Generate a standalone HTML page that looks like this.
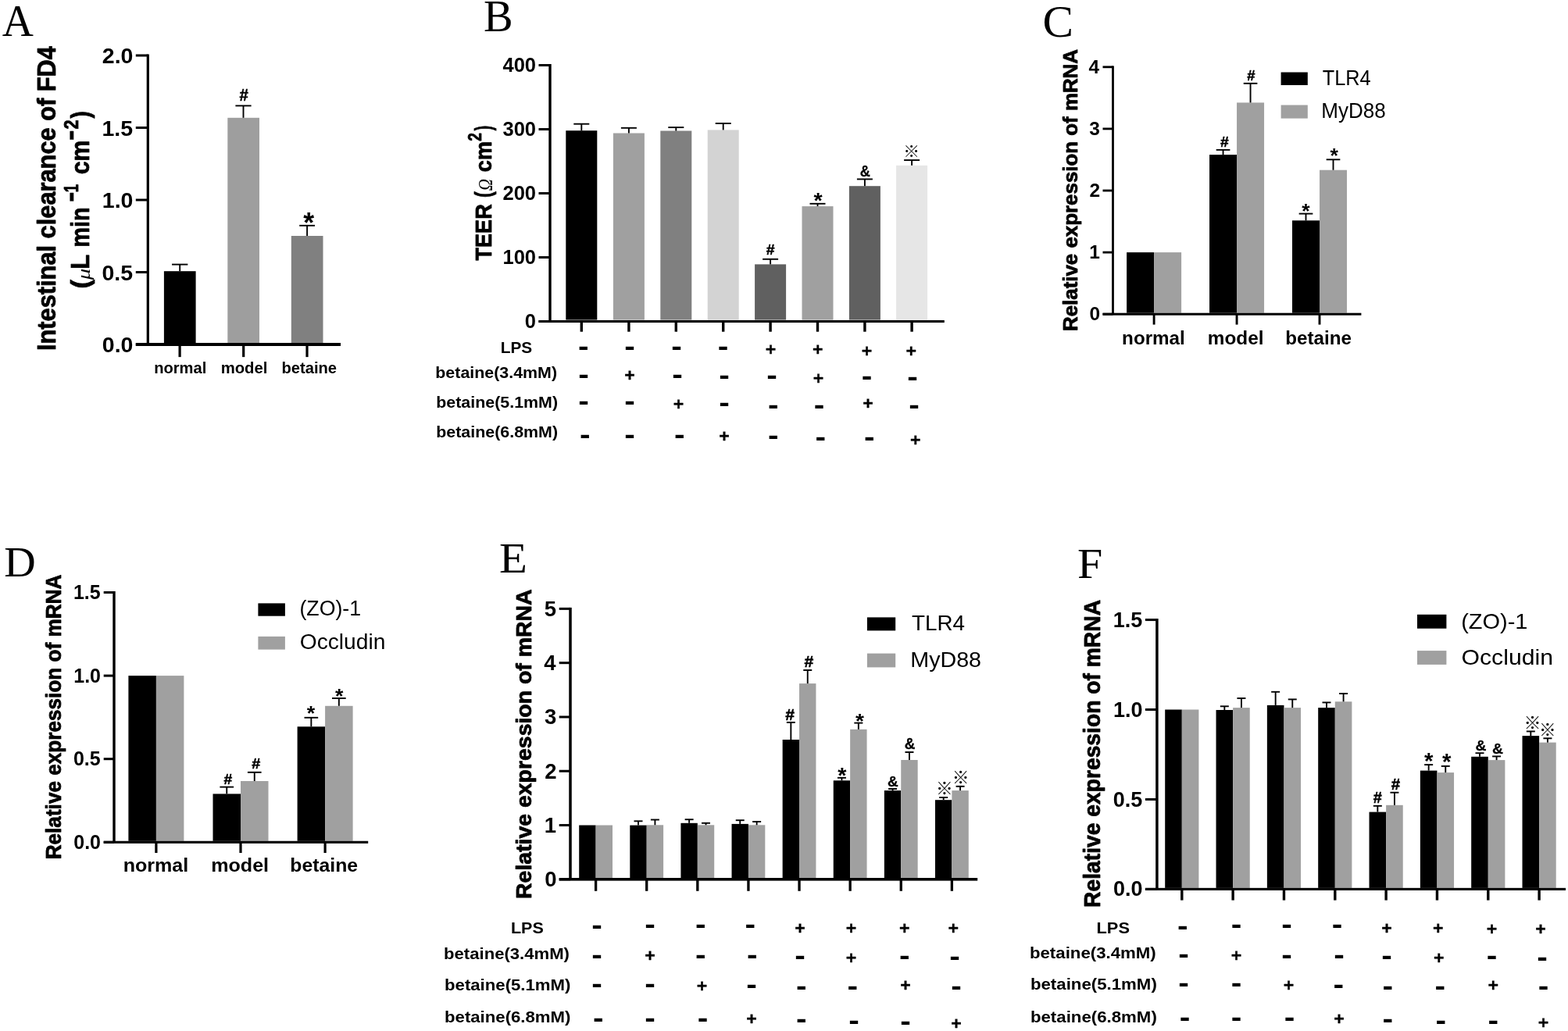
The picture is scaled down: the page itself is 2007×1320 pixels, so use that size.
<!DOCTYPE html>
<html><head><meta charset="utf-8"><title>Figure</title>
<style>html,body{margin:0;padding:0;background:#fff;}svg{display:block;}</style></head>
<body><svg width="2007" height="1320" viewBox="0 0 2007 1320">
<rect x="0" y="0" width="2007" height="1320" fill="#fff"/>
<text x="2.86" y="46.00" font-size="57.00" font-family='"Liberation Serif", "Times New Roman", serif' textLength="40.15" lengthAdjust="spacingAndGlyphs">A</text>
<rect x="209.90" y="347.20" width="40.70" height="91.80" fill="#000"/>
<rect x="291.30" y="150.80" width="40.70" height="288.20" fill="#9e9e9e"/>
<rect x="372.80" y="302.00" width="40.70" height="137.00" fill="#808080"/>
<line x1="230.20" y1="347.20" x2="230.20" y2="338.60" stroke="#000" stroke-width="1.9"/>
<line x1="220.05" y1="338.60" x2="240.35" y2="338.60" stroke="#000" stroke-width="1.9"/>
<line x1="311.50" y1="150.80" x2="311.50" y2="135.40" stroke="#000" stroke-width="1.9"/>
<line x1="301.40" y1="135.40" x2="321.60" y2="135.40" stroke="#000" stroke-width="1.9"/>
<line x1="393.10" y1="302.00" x2="393.10" y2="288.80" stroke="#000" stroke-width="1.9"/>
<line x1="383.20" y1="288.80" x2="403.00" y2="288.80" stroke="#000" stroke-width="1.9"/>
<rect x="187.70" y="69.50" width="3.20" height="371.50" fill="#000"/>
<rect x="173.80" y="439.50" width="15.50" height="3.00" fill="#000"/>
<rect x="173.80" y="347.00" width="15.50" height="3.00" fill="#000"/>
<rect x="173.80" y="254.50" width="15.50" height="3.00" fill="#000"/>
<rect x="173.80" y="162.00" width="15.50" height="3.00" fill="#000"/>
<rect x="173.80" y="69.50" width="15.50" height="3.00" fill="#000"/>
<rect x="173.80" y="439.00" width="262.20" height="4.00" fill="#000"/>
<rect x="228.50" y="441.00" width="3.20" height="16.10" fill="#000"/>
<rect x="310.10" y="441.00" width="3.20" height="16.10" fill="#000"/>
<rect x="391.40" y="441.00" width="3.20" height="16.10" fill="#000"/>
<text x="130.85" y="451.00" font-size="28.50" font-family='"Liberation Sans", Arial, sans-serif' font-weight="bold" textLength="39.62" lengthAdjust="spacingAndGlyphs">0.0</text>
<text x="130.47" y="358.50" font-size="28.50" font-family='"Liberation Sans", Arial, sans-serif' font-weight="bold" textLength="39.62" lengthAdjust="spacingAndGlyphs">0.5</text>
<text x="130.85" y="266.00" font-size="28.50" font-family='"Liberation Sans", Arial, sans-serif' font-weight="bold" textLength="39.62" lengthAdjust="spacingAndGlyphs">1.0</text>
<text x="130.47" y="173.50" font-size="28.50" font-family='"Liberation Sans", Arial, sans-serif' font-weight="bold" textLength="39.62" lengthAdjust="spacingAndGlyphs">1.5</text>
<text x="130.85" y="81.00" font-size="28.50" font-family='"Liberation Sans", Arial, sans-serif' font-weight="bold" textLength="39.62" lengthAdjust="spacingAndGlyphs">2.0</text>
<text x="197.17" y="478.30" font-size="19.70" font-family='"Liberation Sans", Arial, sans-serif' font-weight="bold" textLength="67.15" lengthAdjust="spacingAndGlyphs">normal</text>
<text x="282.66" y="478.30" font-size="19.70" font-family='"Liberation Sans", Arial, sans-serif' font-weight="bold" textLength="59.78" lengthAdjust="spacingAndGlyphs">model</text>
<text x="360.57" y="478.30" font-size="19.70" font-family='"Liberation Sans", Arial, sans-serif' font-weight="bold" textLength="70.52" lengthAdjust="spacingAndGlyphs">betaine</text>
<text transform="translate(70.50,449.06) rotate(-90)" x="0" y="0" font-size="33.00" font-family='"Liberation Sans", Arial, sans-serif' font-weight="bold" textLength="390.02" lengthAdjust="spacingAndGlyphs" stroke="#000" stroke-width="0.8" stroke-linejoin="round">Intestinal clearance of FD4</text>
<text transform="translate(113.90,369.53) rotate(-90)" x="0" y="0" font-size="33.90" font-family='"Liberation Sans", Arial, sans-serif' font-weight="bold" textLength="11.56" lengthAdjust="spacingAndGlyphs" stroke="#000" stroke-width="0.8" stroke-linejoin="round">(</text>
<text transform="translate(114.50,358.27) rotate(-90)" x="0" y="0" font-size="23.70" font-family='"Liberation Serif", "Times New Roman", serif' font-style="italic" textLength="14.53" lengthAdjust="spacingAndGlyphs">μ</text>
<text transform="translate(113.90,344.87) rotate(-90)" x="0" y="0" font-size="33.90" font-family='"Liberation Sans", Arial, sans-serif' font-weight="bold" textLength="18.93" lengthAdjust="spacingAndGlyphs" stroke="#000" stroke-width="0.8" stroke-linejoin="round">L</text>
<text transform="translate(113.90,316.71) rotate(-90)" x="0" y="0" font-size="33.90" font-family='"Liberation Sans", Arial, sans-serif' font-weight="bold" textLength="51.40" lengthAdjust="spacingAndGlyphs" stroke="#000" stroke-width="0.8" stroke-linejoin="round">min</text>
<text transform="translate(103.60,258.16) rotate(-90)" x="0" y="0" font-size="37.00" font-family='"Liberation Sans", Arial, sans-serif' font-weight="bold" textLength="12.11" lengthAdjust="spacingAndGlyphs" stroke="#000" stroke-width="0.8" stroke-linejoin="round">−</text>
<text transform="translate(100.10,246.25) rotate(-90)" x="0" y="0" font-size="26.00" font-family='"Liberation Sans", Arial, sans-serif' font-weight="bold" textLength="10.16" lengthAdjust="spacingAndGlyphs" stroke="#000" stroke-width="0.8" stroke-linejoin="round">1</text>
<text transform="translate(113.90,223.18) rotate(-90)" x="0" y="0" font-size="33.90" font-family='"Liberation Sans", Arial, sans-serif' font-weight="bold" textLength="43.65" lengthAdjust="spacingAndGlyphs" stroke="#000" stroke-width="0.8" stroke-linejoin="round">cm</text>
<text transform="translate(103.60,179.49) rotate(-90)" x="0" y="0" font-size="37.00" font-family='"Liberation Sans", Arial, sans-serif' font-weight="bold" textLength="12.46" lengthAdjust="spacingAndGlyphs" stroke="#000" stroke-width="0.8" stroke-linejoin="round">−</text>
<text transform="translate(100.10,165.56) rotate(-90)" x="0" y="0" font-size="26.00" font-family='"Liberation Sans", Arial, sans-serif' font-weight="bold" textLength="12.13" lengthAdjust="spacingAndGlyphs" stroke="#000" stroke-width="0.8" stroke-linejoin="round">2</text>
<text transform="translate(113.90,151.43) rotate(-90)" x="0" y="0" font-size="33.90" font-family='"Liberation Sans", Arial, sans-serif' font-weight="bold" textLength="9.20" lengthAdjust="spacingAndGlyphs" stroke="#000" stroke-width="0.8" stroke-linejoin="round">)</text>
<text x="619.08" y="40.20" font-size="57.00" font-family='"Liberation Serif", "Times New Roman", serif' textLength="37.57" lengthAdjust="spacingAndGlyphs">B</text>
<rect x="724.30" y="167.20" width="40.00" height="242.30" fill="#000"/>
<line x1="744.30" y1="167.20" x2="744.30" y2="158.70" stroke="#000" stroke-width="1.9"/>
<line x1="734.30" y1="158.70" x2="754.30" y2="158.70" stroke="#000" stroke-width="1.9"/>
<rect x="784.90" y="170.50" width="40.00" height="239.00" fill="#a0a0a0"/>
<line x1="804.90" y1="170.50" x2="804.90" y2="163.80" stroke="#000" stroke-width="1.9"/>
<line x1="794.90" y1="163.80" x2="814.90" y2="163.80" stroke="#000" stroke-width="1.9"/>
<rect x="845.30" y="167.50" width="40.00" height="242.00" fill="#808080"/>
<line x1="865.30" y1="167.50" x2="865.30" y2="163.10" stroke="#000" stroke-width="1.9"/>
<line x1="855.30" y1="163.10" x2="875.30" y2="163.10" stroke="#000" stroke-width="1.9"/>
<rect x="905.70" y="166.40" width="40.00" height="243.10" fill="#d3d3d3"/>
<line x1="925.70" y1="166.40" x2="925.70" y2="158.00" stroke="#000" stroke-width="1.9"/>
<line x1="915.70" y1="158.00" x2="935.70" y2="158.00" stroke="#000" stroke-width="1.9"/>
<rect x="966.10" y="338.40" width="40.00" height="71.10" fill="#606060"/>
<line x1="986.10" y1="338.40" x2="986.10" y2="331.80" stroke="#000" stroke-width="1.9"/>
<line x1="976.10" y1="331.80" x2="996.10" y2="331.80" stroke="#000" stroke-width="1.9"/>
<rect x="1026.50" y="264.10" width="40.00" height="145.40" fill="#a0a0a0"/>
<line x1="1046.50" y1="264.10" x2="1046.50" y2="260.80" stroke="#000" stroke-width="1.9"/>
<line x1="1036.50" y1="260.80" x2="1056.50" y2="260.80" stroke="#000" stroke-width="1.9"/>
<rect x="1086.90" y="238.20" width="40.00" height="171.30" fill="#606060"/>
<line x1="1106.90" y1="238.20" x2="1106.90" y2="229.40" stroke="#000" stroke-width="1.9"/>
<line x1="1096.90" y1="229.40" x2="1116.90" y2="229.40" stroke="#000" stroke-width="1.9"/>
<rect x="1147.10" y="211.80" width="40.00" height="197.70" fill="#e6e6e6"/>
<line x1="1167.10" y1="211.80" x2="1167.10" y2="205.00" stroke="#000" stroke-width="1.9"/>
<line x1="1157.10" y1="205.00" x2="1177.10" y2="205.00" stroke="#000" stroke-width="1.9"/>
<rect x="702.30" y="82.00" width="3.40" height="329.50" fill="#000"/>
<rect x="689.50" y="410.00" width="14.50" height="3.00" fill="#000"/>
<rect x="689.50" y="328.00" width="14.50" height="3.00" fill="#000"/>
<rect x="689.50" y="246.00" width="14.50" height="3.00" fill="#000"/>
<rect x="689.50" y="164.00" width="14.50" height="3.00" fill="#000"/>
<rect x="689.50" y="82.00" width="14.50" height="3.00" fill="#000"/>
<rect x="689.50" y="409.95" width="519.30" height="3.10" fill="#000"/>
<rect x="742.60" y="411.50" width="3.40" height="13.20" fill="#000"/>
<rect x="803.20" y="411.50" width="3.40" height="13.20" fill="#000"/>
<rect x="863.60" y="411.50" width="3.40" height="13.20" fill="#000"/>
<rect x="924.00" y="411.50" width="3.40" height="13.20" fill="#000"/>
<rect x="984.40" y="411.50" width="3.40" height="13.20" fill="#000"/>
<rect x="1044.80" y="411.50" width="3.40" height="13.20" fill="#000"/>
<rect x="1105.20" y="411.50" width="3.40" height="13.20" fill="#000"/>
<rect x="1165.40" y="411.50" width="3.40" height="13.20" fill="#000"/>
<text x="671.86" y="419.87" font-size="25.50" font-family='"Liberation Sans", Arial, sans-serif' font-weight="bold" textLength="14.18" lengthAdjust="spacingAndGlyphs">0</text>
<text x="643.50" y="337.87" font-size="25.50" font-family='"Liberation Sans", Arial, sans-serif' font-weight="bold" textLength="42.55" lengthAdjust="spacingAndGlyphs">100</text>
<text x="643.50" y="255.87" font-size="25.50" font-family='"Liberation Sans", Arial, sans-serif' font-weight="bold" textLength="42.55" lengthAdjust="spacingAndGlyphs">200</text>
<text x="643.50" y="173.87" font-size="25.50" font-family='"Liberation Sans", Arial, sans-serif' font-weight="bold" textLength="42.55" lengthAdjust="spacingAndGlyphs">300</text>
<text x="643.50" y="91.87" font-size="25.50" font-family='"Liberation Sans", Arial, sans-serif' font-weight="bold" textLength="42.55" lengthAdjust="spacingAndGlyphs">400</text>
<text transform="translate(629.20,333.40) rotate(-90)" x="0" y="0" font-size="30.00" font-family='"Liberation Sans", Arial, sans-serif' font-weight="bold" textLength="72.06" lengthAdjust="spacingAndGlyphs" stroke="#000" stroke-width="0.8" stroke-linejoin="round">TEER</text>
<text transform="translate(629.20,253.05) rotate(-90)" x="0" y="0" font-size="30.00" font-family='"Liberation Sans", Arial, sans-serif' font-weight="bold" textLength="7.67" lengthAdjust="spacingAndGlyphs" stroke="#000" stroke-width="0.8" stroke-linejoin="round">(</text>
<text transform="translate(630.00,244.25) rotate(-90)" x="0" y="0" font-size="25.00" font-family='"Liberation Serif", "Times New Roman", serif' font-style="italic" textLength="15.21" lengthAdjust="spacingAndGlyphs">Ω</text>
<text transform="translate(629.20,220.16) rotate(-90)" x="0" y="0" font-size="30.00" font-family='"Liberation Sans", Arial, sans-serif' font-weight="bold" textLength="39.14" lengthAdjust="spacingAndGlyphs" stroke="#000" stroke-width="0.8" stroke-linejoin="round">cm</text>
<text transform="translate(616.40,180.76) rotate(-90)" x="0" y="0" font-size="24.00" font-family='"Liberation Sans", Arial, sans-serif' font-weight="bold" textLength="10.63" lengthAdjust="spacingAndGlyphs" stroke="#000" stroke-width="0.8" stroke-linejoin="round">2</text>
<text transform="translate(629.20,167.32) rotate(-90)" x="0" y="0" font-size="30.00" font-family='"Liberation Sans", Arial, sans-serif' font-weight="bold" textLength="6.49" lengthAdjust="spacingAndGlyphs" stroke="#000" stroke-width="0.8" stroke-linejoin="round">)</text>
<text x="640.71" y="452.40" font-size="20.60" font-family='"Liberation Sans", Arial, sans-serif' font-weight="bold" textLength="40.51" lengthAdjust="spacingAndGlyphs">LPS</text>
<text x="557.29" y="483.80" font-size="19.30" font-family='"Liberation Sans", Arial, sans-serif' font-weight="bold" textLength="155.78" lengthAdjust="spacingAndGlyphs">betaine(3.4mM)</text>
<text x="558.19" y="522.00" font-size="19.30" font-family='"Liberation Sans", Arial, sans-serif' font-weight="bold" textLength="155.88" lengthAdjust="spacingAndGlyphs">betaine(5.1mM)</text>
<text x="558.19" y="560.40" font-size="19.30" font-family='"Liberation Sans", Arial, sans-serif' font-weight="bold" textLength="155.88" lengthAdjust="spacingAndGlyphs">betaine(6.8mM)</text>
<text transform="translate(740.07,455.40) scale(1.166,1)" font-size="35.00" font-family='"Liberation Sans", Arial, sans-serif' font-weight="bold">-</text>
<text transform="translate(799.37,454.70) scale(1.166,1)" font-size="35.00" font-family='"Liberation Sans", Arial, sans-serif' font-weight="bold">-</text>
<text transform="translate(859.37,454.70) scale(1.166,1)" font-size="35.00" font-family='"Liberation Sans", Arial, sans-serif' font-weight="bold">-</text>
<text transform="translate(918.77,454.70) scale(1.166,1)" font-size="35.00" font-family='"Liberation Sans", Arial, sans-serif' font-weight="bold">-</text>
<text transform="translate(979.67,455.49) scale(1.066,1)" font-size="21.76" font-family='"Liberation Sans", Arial, sans-serif' font-weight="bold" stroke="#000" stroke-width="0.3" stroke-linejoin="round">+</text>
<text transform="translate(1039.97,455.49) scale(1.066,1)" font-size="21.76" font-family='"Liberation Sans", Arial, sans-serif' font-weight="bold" stroke="#000" stroke-width="0.3" stroke-linejoin="round">+</text>
<text transform="translate(1102.67,457.39) scale(1.066,1)" font-size="21.76" font-family='"Liberation Sans", Arial, sans-serif' font-weight="bold" stroke="#000" stroke-width="0.3" stroke-linejoin="round">+</text>
<text transform="translate(1159.57,457.39) scale(1.066,1)" font-size="21.76" font-family='"Liberation Sans", Arial, sans-serif' font-weight="bold" stroke="#000" stroke-width="0.3" stroke-linejoin="round">+</text>
<text transform="translate(740.37,490.80) scale(1.166,1)" font-size="35.00" font-family='"Liberation Sans", Arial, sans-serif' font-weight="bold">-</text>
<text transform="translate(799.17,488.49) scale(1.066,1)" font-size="21.76" font-family='"Liberation Sans", Arial, sans-serif' font-weight="bold" stroke="#000" stroke-width="0.3" stroke-linejoin="round">+</text>
<text transform="translate(860.17,491.30) scale(1.166,1)" font-size="35.00" font-family='"Liberation Sans", Arial, sans-serif' font-weight="bold">-</text>
<text transform="translate(920.37,491.50) scale(1.166,1)" font-size="35.00" font-family='"Liberation Sans", Arial, sans-serif' font-weight="bold">-</text>
<text transform="translate(981.37,492.00) scale(1.166,1)" font-size="35.00" font-family='"Liberation Sans", Arial, sans-serif' font-weight="bold">-</text>
<text transform="translate(1040.67,491.89) scale(1.066,1)" font-size="21.76" font-family='"Liberation Sans", Arial, sans-serif' font-weight="bold" stroke="#000" stroke-width="0.3" stroke-linejoin="round">+</text>
<text transform="translate(1102.87,492.50) scale(1.166,1)" font-size="35.00" font-family='"Liberation Sans", Arial, sans-serif' font-weight="bold">-</text>
<text transform="translate(1161.27,494.20) scale(1.166,1)" font-size="35.00" font-family='"Liberation Sans", Arial, sans-serif' font-weight="bold">-</text>
<text transform="translate(740.27,525.20) scale(1.166,1)" font-size="35.00" font-family='"Liberation Sans", Arial, sans-serif' font-weight="bold">-</text>
<text transform="translate(799.37,525.20) scale(1.166,1)" font-size="35.00" font-family='"Liberation Sans", Arial, sans-serif' font-weight="bold">-</text>
<text transform="translate(861.77,524.89) scale(1.066,1)" font-size="21.76" font-family='"Liberation Sans", Arial, sans-serif' font-weight="bold" stroke="#000" stroke-width="0.3" stroke-linejoin="round">+</text>
<text transform="translate(920.17,526.70) scale(1.166,1)" font-size="35.00" font-family='"Liberation Sans", Arial, sans-serif' font-weight="bold">-</text>
<text transform="translate(983.07,529.60) scale(1.166,1)" font-size="35.00" font-family='"Liberation Sans", Arial, sans-serif' font-weight="bold">-</text>
<text transform="translate(1041.87,529.60) scale(1.166,1)" font-size="35.00" font-family='"Liberation Sans", Arial, sans-serif' font-weight="bold">-</text>
<text transform="translate(1104.27,524.19) scale(1.066,1)" font-size="21.76" font-family='"Liberation Sans", Arial, sans-serif' font-weight="bold" stroke="#000" stroke-width="0.3" stroke-linejoin="round">+</text>
<text transform="translate(1163.17,530.30) scale(1.166,1)" font-size="35.00" font-family='"Liberation Sans", Arial, sans-serif' font-weight="bold">-</text>
<text transform="translate(741.97,567.80) scale(1.166,1)" font-size="35.00" font-family='"Liberation Sans", Arial, sans-serif' font-weight="bold">-</text>
<text transform="translate(799.37,567.80) scale(1.166,1)" font-size="35.00" font-family='"Liberation Sans", Arial, sans-serif' font-weight="bold">-</text>
<text transform="translate(862.97,568.30) scale(1.166,1)" font-size="35.00" font-family='"Liberation Sans", Arial, sans-serif' font-weight="bold">-</text>
<text transform="translate(920.37,565.99) scale(1.066,1)" font-size="21.76" font-family='"Liberation Sans", Arial, sans-serif' font-weight="bold" stroke="#000" stroke-width="0.3" stroke-linejoin="round">+</text>
<text transform="translate(983.07,569.00) scale(1.166,1)" font-size="35.00" font-family='"Liberation Sans", Arial, sans-serif' font-weight="bold">-</text>
<text transform="translate(1043.57,570.70) scale(1.166,1)" font-size="35.00" font-family='"Liberation Sans", Arial, sans-serif' font-weight="bold">-</text>
<text transform="translate(1105.97,571.40) scale(1.166,1)" font-size="35.00" font-family='"Liberation Sans", Arial, sans-serif' font-weight="bold">-</text>
<text transform="translate(1165.07,570.79) scale(1.066,1)" font-size="21.76" font-family='"Liberation Sans", Arial, sans-serif' font-weight="bold" stroke="#000" stroke-width="0.3" stroke-linejoin="round">+</text>
<text x="1334.57" y="47.30" font-size="57.00" font-family='"Liberation Serif", "Times New Roman", serif' textLength="39.50" lengthAdjust="spacingAndGlyphs">C</text>
<rect x="1442.10" y="323.10" width="35.00" height="77.60" fill="#000"/>
<rect x="1477.10" y="323.10" width="35.00" height="77.60" fill="#a0a0a0"/>
<rect x="1548.05" y="198.10" width="35.00" height="202.60" fill="#000"/>
<rect x="1583.05" y="131.40" width="35.00" height="269.30" fill="#a0a0a0"/>
<line x1="1565.55" y1="198.10" x2="1565.55" y2="191.90" stroke="#000" stroke-width="1.9"/>
<line x1="1556.70" y1="191.90" x2="1574.40" y2="191.90" stroke="#000" stroke-width="1.9"/>
<line x1="1600.55" y1="131.40" x2="1600.55" y2="106.80" stroke="#000" stroke-width="1.9"/>
<line x1="1591.70" y1="106.80" x2="1609.40" y2="106.80" stroke="#000" stroke-width="1.9"/>
<rect x="1654.00" y="282.30" width="35.00" height="118.40" fill="#000"/>
<rect x="1689.00" y="217.70" width="35.00" height="183.00" fill="#a0a0a0"/>
<line x1="1671.50" y1="282.30" x2="1671.50" y2="273.60" stroke="#000" stroke-width="1.9"/>
<line x1="1662.65" y1="273.60" x2="1680.35" y2="273.60" stroke="#000" stroke-width="1.9"/>
<line x1="1706.50" y1="217.70" x2="1706.50" y2="204.30" stroke="#000" stroke-width="1.9"/>
<line x1="1697.65" y1="204.30" x2="1715.35" y2="204.30" stroke="#000" stroke-width="1.9"/>
<rect x="1423.10" y="84.40" width="2.80" height="317.80" fill="#000"/>
<rect x="1411.50" y="400.80" width="13.00" height="2.80" fill="#000"/>
<rect x="1411.50" y="321.70" width="13.00" height="2.80" fill="#000"/>
<rect x="1411.50" y="242.60" width="13.00" height="2.80" fill="#000"/>
<rect x="1411.50" y="163.50" width="13.00" height="2.80" fill="#000"/>
<rect x="1411.50" y="84.40" width="13.00" height="2.80" fill="#000"/>
<rect x="1411.50" y="400.70" width="330.90" height="3.00" fill="#000"/>
<rect x="1475.65" y="402.20" width="2.90" height="13.40" fill="#000"/>
<rect x="1581.60" y="402.20" width="2.90" height="13.40" fill="#000"/>
<rect x="1687.55" y="402.20" width="2.90" height="13.40" fill="#000"/>
<text x="1394.48" y="410.43" font-size="24.50" font-family='"Liberation Sans", Arial, sans-serif' font-weight="bold" textLength="13.63" lengthAdjust="spacingAndGlyphs">0</text>
<text x="1394.16" y="331.33" font-size="24.50" font-family='"Liberation Sans", Arial, sans-serif' font-weight="bold" textLength="13.63" lengthAdjust="spacingAndGlyphs">1</text>
<text x="1394.46" y="252.23" font-size="24.50" font-family='"Liberation Sans", Arial, sans-serif' font-weight="bold" textLength="13.63" lengthAdjust="spacingAndGlyphs">2</text>
<text x="1394.36" y="173.13" font-size="24.50" font-family='"Liberation Sans", Arial, sans-serif' font-weight="bold" textLength="13.63" lengthAdjust="spacingAndGlyphs">3</text>
<text x="1393.61" y="94.03" font-size="24.50" font-family='"Liberation Sans", Arial, sans-serif' font-weight="bold" textLength="13.63" lengthAdjust="spacingAndGlyphs">4</text>
<rect x="1639.60" y="92.50" width="34.20" height="16.50" fill="#000"/>
<rect x="1639.60" y="134.50" width="34.20" height="17.10" fill="#a0a0a0"/>
<text x="1692.83" y="109.00" font-size="27.60" font-family='"Liberation Sans", Arial, sans-serif' textLength="61.81" lengthAdjust="spacingAndGlyphs">TLR4</text>
<text x="1691.27" y="151.00" font-size="27.60" font-family='"Liberation Sans", Arial, sans-serif' textLength="82.36" lengthAdjust="spacingAndGlyphs">MyD88</text>
<text x="1436.11" y="440.60" font-size="24.00" font-family='"Liberation Sans", Arial, sans-serif' font-weight="bold" textLength="80.61" lengthAdjust="spacingAndGlyphs">normal</text>
<text x="1545.80" y="440.60" font-size="24.00" font-family='"Liberation Sans", Arial, sans-serif' font-weight="bold" textLength="71.63" lengthAdjust="spacingAndGlyphs">model</text>
<text x="1645.20" y="440.60" font-size="24.00" font-family='"Liberation Sans", Arial, sans-serif' font-weight="bold" textLength="84.72" lengthAdjust="spacingAndGlyphs">betaine</text>
<text transform="translate(1379.20,424.03) rotate(-90)" x="0" y="0" font-size="26.20" font-family='"Liberation Sans", Arial, sans-serif' font-weight="bold" textLength="361.01" lengthAdjust="spacingAndGlyphs" stroke="#000" stroke-width="0.8" stroke-linejoin="round">Relative expression of mRNA</text>
<text x="5.39" y="737.50" font-size="55.00" font-family='"Liberation Serif", "Times New Roman", serif' textLength="40.46" lengthAdjust="spacingAndGlyphs">D</text>
<rect x="164.40" y="865.10" width="35.50" height="211.70" fill="#000"/>
<rect x="199.90" y="865.10" width="35.50" height="211.70" fill="#a0a0a0"/>
<rect x="272.50" y="1016.40" width="35.50" height="60.40" fill="#000"/>
<rect x="308.00" y="1000.00" width="35.50" height="76.80" fill="#a0a0a0"/>
<line x1="290.25" y1="1016.40" x2="290.25" y2="1007.60" stroke="#000" stroke-width="1.9"/>
<line x1="281.40" y1="1007.60" x2="299.10" y2="1007.60" stroke="#000" stroke-width="1.9"/>
<line x1="325.75" y1="1000.00" x2="325.75" y2="988.80" stroke="#000" stroke-width="1.9"/>
<line x1="316.90" y1="988.80" x2="334.60" y2="988.80" stroke="#000" stroke-width="1.9"/>
<rect x="380.60" y="930.30" width="35.50" height="146.50" fill="#000"/>
<rect x="416.10" y="903.80" width="35.50" height="173.00" fill="#a0a0a0"/>
<line x1="398.35" y1="930.30" x2="398.35" y2="918.80" stroke="#000" stroke-width="1.9"/>
<line x1="389.50" y1="918.80" x2="407.20" y2="918.80" stroke="#000" stroke-width="1.9"/>
<line x1="433.85" y1="903.80" x2="433.85" y2="894.00" stroke="#000" stroke-width="1.9"/>
<line x1="425.00" y1="894.00" x2="442.70" y2="894.00" stroke="#000" stroke-width="1.9"/>
<rect x="144.30" y="757.00" width="3.40" height="321.30" fill="#000"/>
<rect x="132.70" y="1076.80" width="13.30" height="3.00" fill="#000"/>
<rect x="132.70" y="970.20" width="13.30" height="3.00" fill="#000"/>
<rect x="132.70" y="863.60" width="13.30" height="3.00" fill="#000"/>
<rect x="132.70" y="757.00" width="13.30" height="3.00" fill="#000"/>
<rect x="132.70" y="1076.75" width="338.50" height="3.10" fill="#000"/>
<rect x="198.30" y="1078.30" width="3.20" height="13.70" fill="#000"/>
<rect x="306.40" y="1078.30" width="3.20" height="13.70" fill="#000"/>
<rect x="414.50" y="1078.30" width="3.20" height="13.70" fill="#000"/>
<text x="94.27" y="1086.70" font-size="25.00" font-family='"Liberation Sans", Arial, sans-serif' font-weight="bold" textLength="34.75" lengthAdjust="spacingAndGlyphs">0.0</text>
<text x="93.94" y="980.10" font-size="25.00" font-family='"Liberation Sans", Arial, sans-serif' font-weight="bold" textLength="34.75" lengthAdjust="spacingAndGlyphs">0.5</text>
<text x="94.27" y="873.50" font-size="25.00" font-family='"Liberation Sans", Arial, sans-serif' font-weight="bold" textLength="34.75" lengthAdjust="spacingAndGlyphs">1.0</text>
<text x="93.94" y="766.90" font-size="25.00" font-family='"Liberation Sans", Arial, sans-serif' font-weight="bold" textLength="34.75" lengthAdjust="spacingAndGlyphs">1.5</text>
<rect x="330.40" y="772.40" width="34.50" height="16.30" fill="#000"/>
<rect x="330.40" y="814.90" width="34.50" height="16.70" fill="#a0a0a0"/>
<text x="383.44" y="788.00" font-size="27.00" font-family='"Liberation Sans", Arial, sans-serif' textLength="78.66" lengthAdjust="spacingAndGlyphs">(ZO)-1</text>
<text x="383.77" y="830.60" font-size="27.00" font-family='"Liberation Sans", Arial, sans-serif' textLength="109.56" lengthAdjust="spacingAndGlyphs">Occludin</text>
<text x="157.65" y="1116.40" font-size="24.50" font-family='"Liberation Sans", Arial, sans-serif' font-weight="bold" textLength="83.63" lengthAdjust="spacingAndGlyphs">normal</text>
<text x="270.25" y="1116.40" font-size="24.50" font-family='"Liberation Sans", Arial, sans-serif' font-weight="bold" textLength="73.83" lengthAdjust="spacingAndGlyphs">model</text>
<text x="371.37" y="1116.40" font-size="24.50" font-family='"Liberation Sans", Arial, sans-serif' font-weight="bold" textLength="86.78" lengthAdjust="spacingAndGlyphs">betaine</text>
<text transform="translate(78.20,1100.35) rotate(-90)" x="0" y="0" font-size="27.50" font-family='"Liberation Sans", Arial, sans-serif' font-weight="bold" textLength="364.84" lengthAdjust="spacingAndGlyphs" stroke="#000" stroke-width="0.8" stroke-linejoin="round">Relative expression of mRNA</text>
<text x="639.01" y="733.40" font-size="55.00" font-family='"Liberation Serif", "Times New Roman", serif' textLength="35.92" lengthAdjust="spacingAndGlyphs">E</text>
<rect x="741.20" y="1056.52" width="21.40" height="67.78" fill="#000"/>
<rect x="762.60" y="1056.52" width="21.40" height="67.78" fill="#a0a0a0"/>
<rect x="806.31" y="1056.60" width="21.40" height="67.70" fill="#000"/>
<rect x="827.71" y="1056.30" width="21.40" height="68.00" fill="#a0a0a0"/>
<line x1="817.01" y1="1056.60" x2="817.01" y2="1051.30" stroke="#000" stroke-width="1.9"/>
<line x1="811.51" y1="1051.30" x2="822.51" y2="1051.30" stroke="#000" stroke-width="1.9"/>
<line x1="838.41" y1="1056.30" x2="838.41" y2="1049.50" stroke="#000" stroke-width="1.9"/>
<line x1="832.91" y1="1049.50" x2="843.91" y2="1049.50" stroke="#000" stroke-width="1.9"/>
<rect x="871.42" y="1053.80" width="21.40" height="70.50" fill="#000"/>
<rect x="892.82" y="1056.30" width="21.40" height="68.00" fill="#a0a0a0"/>
<line x1="882.12" y1="1053.80" x2="882.12" y2="1049.20" stroke="#000" stroke-width="1.9"/>
<line x1="876.62" y1="1049.20" x2="887.62" y2="1049.20" stroke="#000" stroke-width="1.9"/>
<line x1="903.52" y1="1056.30" x2="903.52" y2="1053.80" stroke="#000" stroke-width="1.9"/>
<line x1="898.02" y1="1053.80" x2="909.02" y2="1053.80" stroke="#000" stroke-width="1.9"/>
<rect x="936.53" y="1054.90" width="21.40" height="69.40" fill="#000"/>
<rect x="957.93" y="1056.30" width="21.40" height="68.00" fill="#a0a0a0"/>
<line x1="947.23" y1="1054.90" x2="947.23" y2="1050.20" stroke="#000" stroke-width="1.9"/>
<line x1="941.73" y1="1050.20" x2="952.73" y2="1050.20" stroke="#000" stroke-width="1.9"/>
<line x1="968.63" y1="1056.30" x2="968.63" y2="1052.00" stroke="#000" stroke-width="1.9"/>
<line x1="963.13" y1="1052.00" x2="974.13" y2="1052.00" stroke="#000" stroke-width="1.9"/>
<rect x="1001.64" y="947.00" width="21.40" height="177.30" fill="#000"/>
<rect x="1023.04" y="875.10" width="21.40" height="249.20" fill="#a0a0a0"/>
<line x1="1012.34" y1="947.00" x2="1012.34" y2="924.90" stroke="#000" stroke-width="1.9"/>
<line x1="1006.84" y1="924.90" x2="1017.84" y2="924.90" stroke="#000" stroke-width="1.9"/>
<line x1="1033.74" y1="875.10" x2="1033.74" y2="858.00" stroke="#000" stroke-width="1.9"/>
<line x1="1028.24" y1="858.00" x2="1039.24" y2="858.00" stroke="#000" stroke-width="1.9"/>
<rect x="1066.75" y="999.30" width="21.40" height="125.00" fill="#000"/>
<rect x="1088.15" y="933.80" width="21.40" height="190.50" fill="#a0a0a0"/>
<line x1="1077.45" y1="999.30" x2="1077.45" y2="995.80" stroke="#000" stroke-width="1.9"/>
<line x1="1071.95" y1="995.80" x2="1082.95" y2="995.80" stroke="#000" stroke-width="1.9"/>
<line x1="1098.85" y1="933.80" x2="1098.85" y2="925.60" stroke="#000" stroke-width="1.9"/>
<line x1="1093.35" y1="925.60" x2="1104.35" y2="925.60" stroke="#000" stroke-width="1.9"/>
<rect x="1131.86" y="1012.10" width="21.40" height="112.20" fill="#000"/>
<rect x="1153.26" y="973.00" width="21.40" height="151.30" fill="#a0a0a0"/>
<line x1="1142.56" y1="1012.10" x2="1142.56" y2="1010.00" stroke="#000" stroke-width="1.9"/>
<line x1="1137.06" y1="1010.00" x2="1148.06" y2="1010.00" stroke="#000" stroke-width="1.9"/>
<line x1="1163.96" y1="973.00" x2="1163.96" y2="963.00" stroke="#000" stroke-width="1.9"/>
<line x1="1158.46" y1="963.00" x2="1169.46" y2="963.00" stroke="#000" stroke-width="1.9"/>
<rect x="1196.97" y="1024.20" width="21.40" height="100.10" fill="#000"/>
<rect x="1218.37" y="1012.10" width="21.40" height="112.20" fill="#a0a0a0"/>
<line x1="1207.67" y1="1024.20" x2="1207.67" y2="1021.00" stroke="#000" stroke-width="1.9"/>
<line x1="1202.17" y1="1021.00" x2="1213.17" y2="1021.00" stroke="#000" stroke-width="1.9"/>
<line x1="1229.07" y1="1012.10" x2="1229.07" y2="1006.80" stroke="#000" stroke-width="1.9"/>
<line x1="1223.57" y1="1006.80" x2="1234.57" y2="1006.80" stroke="#000" stroke-width="1.9"/>
<rect x="728.25" y="777.90" width="3.50" height="347.90" fill="#000"/>
<rect x="715.70" y="1124.30" width="14.30" height="3.00" fill="#000"/>
<rect x="715.70" y="1055.02" width="14.30" height="3.00" fill="#000"/>
<rect x="715.70" y="985.74" width="14.30" height="3.00" fill="#000"/>
<rect x="715.70" y="916.46" width="14.30" height="3.00" fill="#000"/>
<rect x="715.70" y="847.18" width="14.30" height="3.00" fill="#000"/>
<rect x="715.70" y="777.90" width="14.30" height="3.00" fill="#000"/>
<rect x="715.70" y="1124.00" width="535.50" height="3.60" fill="#000"/>
<rect x="760.95" y="1125.80" width="3.30" height="15.00" fill="#000"/>
<rect x="826.06" y="1125.80" width="3.30" height="15.00" fill="#000"/>
<rect x="891.17" y="1125.80" width="3.30" height="15.00" fill="#000"/>
<rect x="956.28" y="1125.80" width="3.30" height="15.00" fill="#000"/>
<rect x="1021.39" y="1125.80" width="3.30" height="15.00" fill="#000"/>
<rect x="1086.50" y="1125.80" width="3.30" height="15.00" fill="#000"/>
<rect x="1151.61" y="1125.80" width="3.30" height="15.00" fill="#000"/>
<rect x="1216.72" y="1125.80" width="3.30" height="15.00" fill="#000"/>
<text x="697.23" y="1135.06" font-size="27.50" font-family='"Liberation Sans", Arial, sans-serif' font-weight="bold" textLength="15.29" lengthAdjust="spacingAndGlyphs">0</text>
<text x="696.87" y="1065.78" font-size="27.50" font-family='"Liberation Sans", Arial, sans-serif' font-weight="bold" textLength="15.29" lengthAdjust="spacingAndGlyphs">1</text>
<text x="697.21" y="996.50" font-size="27.50" font-family='"Liberation Sans", Arial, sans-serif' font-weight="bold" textLength="15.29" lengthAdjust="spacingAndGlyphs">2</text>
<text x="697.10" y="927.22" font-size="27.50" font-family='"Liberation Sans", Arial, sans-serif' font-weight="bold" textLength="15.29" lengthAdjust="spacingAndGlyphs">3</text>
<text x="696.25" y="857.94" font-size="27.50" font-family='"Liberation Sans", Arial, sans-serif' font-weight="bold" textLength="15.29" lengthAdjust="spacingAndGlyphs">4</text>
<text x="696.87" y="788.66" font-size="27.50" font-family='"Liberation Sans", Arial, sans-serif' font-weight="bold" textLength="15.29" lengthAdjust="spacingAndGlyphs">5</text>
<rect x="1109.90" y="790.40" width="36.30" height="17.00" fill="#000"/>
<rect x="1109.90" y="836.60" width="36.30" height="17.80" fill="#a0a0a0"/>
<text x="1166.98" y="807.40" font-size="27.50" font-family='"Liberation Sans", Arial, sans-serif' textLength="67.94" lengthAdjust="spacingAndGlyphs">TLR4</text>
<text x="1165.25" y="854.40" font-size="27.50" font-family='"Liberation Sans", Arial, sans-serif' textLength="90.80" lengthAdjust="spacingAndGlyphs">MyD88</text>
<text transform="translate(679.80,1150.90) rotate(-90)" x="0" y="0" font-size="28.30" font-family='"Liberation Sans", Arial, sans-serif' font-weight="bold" textLength="396.45" lengthAdjust="spacingAndGlyphs" stroke="#000" stroke-width="0.8" stroke-linejoin="round">Relative expression of mRNA</text>
<text x="653.96" y="1194.80" font-size="20.60" font-family='"Liberation Sans", Arial, sans-serif' font-weight="bold" textLength="41.88" lengthAdjust="spacingAndGlyphs">LPS</text>
<text x="568.04" y="1228.00" font-size="19.80" font-family='"Liberation Sans", Arial, sans-serif' font-weight="bold" textLength="160.96" lengthAdjust="spacingAndGlyphs">betaine(3.4mM)</text>
<text x="569.04" y="1268.00" font-size="19.80" font-family='"Liberation Sans", Arial, sans-serif' font-weight="bold" textLength="161.37" lengthAdjust="spacingAndGlyphs">betaine(5.1mM)</text>
<text x="569.04" y="1309.40" font-size="19.80" font-family='"Liberation Sans", Arial, sans-serif' font-weight="bold" textLength="161.37" lengthAdjust="spacingAndGlyphs">betaine(6.8mM)</text>
<text transform="translate(757.27,1195.80) scale(1.166,1)" font-size="35.00" font-family='"Liberation Sans", Arial, sans-serif' font-weight="bold">-</text>
<text transform="translate(825.17,1195.10) scale(1.166,1)" font-size="35.00" font-family='"Liberation Sans", Arial, sans-serif' font-weight="bold">-</text>
<text transform="translate(889.97,1195.10) scale(1.166,1)" font-size="35.00" font-family='"Liberation Sans", Arial, sans-serif' font-weight="bold">-</text>
<text transform="translate(953.57,1195.10) scale(1.166,1)" font-size="35.00" font-family='"Liberation Sans", Arial, sans-serif' font-weight="bold">-</text>
<text transform="translate(1017.27,1195.69) scale(1.066,1)" font-size="21.76" font-family='"Liberation Sans", Arial, sans-serif' font-weight="bold" stroke="#000" stroke-width="0.3" stroke-linejoin="round">+</text>
<text transform="translate(1082.67,1195.69) scale(1.066,1)" font-size="21.76" font-family='"Liberation Sans", Arial, sans-serif' font-weight="bold" stroke="#000" stroke-width="0.3" stroke-linejoin="round">+</text>
<text transform="translate(1150.97,1196.39) scale(1.066,1)" font-size="21.76" font-family='"Liberation Sans", Arial, sans-serif' font-weight="bold" stroke="#000" stroke-width="0.3" stroke-linejoin="round">+</text>
<text transform="translate(1213.57,1196.39) scale(1.066,1)" font-size="21.76" font-family='"Liberation Sans", Arial, sans-serif' font-weight="bold" stroke="#000" stroke-width="0.3" stroke-linejoin="round">+</text>
<text transform="translate(757.27,1233.60) scale(1.166,1)" font-size="35.00" font-family='"Liberation Sans", Arial, sans-serif' font-weight="bold">-</text>
<text transform="translate(825.17,1231.09) scale(1.066,1)" font-size="21.76" font-family='"Liberation Sans", Arial, sans-serif' font-weight="bold" stroke="#000" stroke-width="0.3" stroke-linejoin="round">+</text>
<text transform="translate(889.97,1233.60) scale(1.166,1)" font-size="35.00" font-family='"Liberation Sans", Arial, sans-serif' font-weight="bold">-</text>
<text transform="translate(956.07,1233.60) scale(1.166,1)" font-size="35.00" font-family='"Liberation Sans", Arial, sans-serif' font-weight="bold">-</text>
<text transform="translate(1017.27,1234.70) scale(1.166,1)" font-size="35.00" font-family='"Liberation Sans", Arial, sans-serif' font-weight="bold">-</text>
<text transform="translate(1082.67,1233.89) scale(1.066,1)" font-size="21.76" font-family='"Liberation Sans", Arial, sans-serif' font-weight="bold" stroke="#000" stroke-width="0.3" stroke-linejoin="round">+</text>
<text transform="translate(1150.97,1234.70) scale(1.166,1)" font-size="35.00" font-family='"Liberation Sans", Arial, sans-serif' font-weight="bold">-</text>
<text transform="translate(1215.37,1236.40) scale(1.166,1)" font-size="35.00" font-family='"Liberation Sans", Arial, sans-serif' font-weight="bold">-</text>
<text transform="translate(757.27,1270.80) scale(1.166,1)" font-size="35.00" font-family='"Liberation Sans", Arial, sans-serif' font-weight="bold">-</text>
<text transform="translate(825.17,1270.80) scale(1.166,1)" font-size="35.00" font-family='"Liberation Sans", Arial, sans-serif' font-weight="bold">-</text>
<text transform="translate(891.67,1269.99) scale(1.066,1)" font-size="21.76" font-family='"Liberation Sans", Arial, sans-serif' font-weight="bold" stroke="#000" stroke-width="0.3" stroke-linejoin="round">+</text>
<text transform="translate(955.37,1271.80) scale(1.166,1)" font-size="35.00" font-family='"Liberation Sans", Arial, sans-serif' font-weight="bold">-</text>
<text transform="translate(1019.07,1273.60) scale(1.166,1)" font-size="35.00" font-family='"Liberation Sans", Arial, sans-serif' font-weight="bold">-</text>
<text transform="translate(1084.47,1273.60) scale(1.166,1)" font-size="35.00" font-family='"Liberation Sans", Arial, sans-serif' font-weight="bold">-</text>
<text transform="translate(1152.37,1269.29) scale(1.066,1)" font-size="21.76" font-family='"Liberation Sans", Arial, sans-serif' font-weight="bold" stroke="#000" stroke-width="0.3" stroke-linejoin="round">+</text>
<text transform="translate(1217.17,1274.30) scale(1.166,1)" font-size="35.00" font-family='"Liberation Sans", Arial, sans-serif' font-weight="bold">-</text>
<text transform="translate(759.07,1315.00) scale(1.166,1)" font-size="35.00" font-family='"Liberation Sans", Arial, sans-serif' font-weight="bold">-</text>
<text transform="translate(825.17,1315.00) scale(1.166,1)" font-size="35.00" font-family='"Liberation Sans", Arial, sans-serif' font-weight="bold">-</text>
<text transform="translate(892.77,1315.00) scale(1.166,1)" font-size="35.00" font-family='"Liberation Sans", Arial, sans-serif' font-weight="bold">-</text>
<text transform="translate(955.37,1312.49) scale(1.066,1)" font-size="21.76" font-family='"Liberation Sans", Arial, sans-serif' font-weight="bold" stroke="#000" stroke-width="0.3" stroke-linejoin="round">+</text>
<text transform="translate(1019.07,1316.00) scale(1.166,1)" font-size="35.00" font-family='"Liberation Sans", Arial, sans-serif' font-weight="bold">-</text>
<text transform="translate(1086.27,1317.80) scale(1.166,1)" font-size="35.00" font-family='"Liberation Sans", Arial, sans-serif' font-weight="bold">-</text>
<text transform="translate(1152.37,1318.50) scale(1.166,1)" font-size="35.00" font-family='"Liberation Sans", Arial, sans-serif' font-weight="bold">-</text>
<text transform="translate(1217.17,1317.79) scale(1.066,1)" font-size="21.76" font-family='"Liberation Sans", Arial, sans-serif' font-weight="bold" stroke="#000" stroke-width="0.3" stroke-linejoin="round">+</text>
<text x="1379.03" y="739.80" font-size="55.00" font-family='"Liberation Serif", "Times New Roman", serif' textLength="32.27" lengthAdjust="spacingAndGlyphs">F</text>
<rect x="1491.20" y="908.50" width="21.60" height="228.40" fill="#000"/>
<rect x="1512.80" y="908.50" width="21.60" height="228.40" fill="#a0a0a0"/>
<rect x="1556.53" y="909.00" width="21.60" height="227.90" fill="#000"/>
<rect x="1578.13" y="906.10" width="21.60" height="230.80" fill="#a0a0a0"/>
<line x1="1567.33" y1="909.00" x2="1567.33" y2="904.30" stroke="#000" stroke-width="1.9"/>
<line x1="1561.83" y1="904.30" x2="1572.83" y2="904.30" stroke="#000" stroke-width="1.9"/>
<line x1="1588.93" y1="906.10" x2="1588.93" y2="894.00" stroke="#000" stroke-width="1.9"/>
<line x1="1583.43" y1="894.00" x2="1594.43" y2="894.00" stroke="#000" stroke-width="1.9"/>
<rect x="1621.86" y="902.90" width="21.60" height="234.00" fill="#000"/>
<rect x="1643.46" y="906.10" width="21.60" height="230.80" fill="#a0a0a0"/>
<line x1="1632.66" y1="902.90" x2="1632.66" y2="885.80" stroke="#000" stroke-width="1.9"/>
<line x1="1627.16" y1="885.80" x2="1638.16" y2="885.80" stroke="#000" stroke-width="1.9"/>
<line x1="1654.26" y1="906.10" x2="1654.26" y2="895.40" stroke="#000" stroke-width="1.9"/>
<line x1="1648.76" y1="895.40" x2="1659.76" y2="895.40" stroke="#000" stroke-width="1.9"/>
<rect x="1687.19" y="906.10" width="21.60" height="230.80" fill="#000"/>
<rect x="1708.79" y="898.30" width="21.60" height="238.60" fill="#a0a0a0"/>
<line x1="1697.99" y1="906.10" x2="1697.99" y2="899.40" stroke="#000" stroke-width="1.9"/>
<line x1="1692.49" y1="899.40" x2="1703.49" y2="899.40" stroke="#000" stroke-width="1.9"/>
<line x1="1719.59" y1="898.30" x2="1719.59" y2="888.00" stroke="#000" stroke-width="1.9"/>
<line x1="1714.09" y1="888.00" x2="1725.09" y2="888.00" stroke="#000" stroke-width="1.9"/>
<rect x="1752.52" y="1039.60" width="21.60" height="97.30" fill="#000"/>
<rect x="1774.12" y="1030.80" width="21.60" height="106.10" fill="#a0a0a0"/>
<line x1="1763.32" y1="1039.60" x2="1763.32" y2="1031.80" stroke="#000" stroke-width="1.9"/>
<line x1="1757.82" y1="1031.80" x2="1768.82" y2="1031.80" stroke="#000" stroke-width="1.9"/>
<line x1="1784.92" y1="1030.80" x2="1784.92" y2="1014.70" stroke="#000" stroke-width="1.9"/>
<line x1="1779.42" y1="1014.70" x2="1790.42" y2="1014.70" stroke="#000" stroke-width="1.9"/>
<rect x="1817.85" y="986.60" width="21.60" height="150.30" fill="#000"/>
<rect x="1839.45" y="989.10" width="21.60" height="147.80" fill="#a0a0a0"/>
<line x1="1828.65" y1="986.60" x2="1828.65" y2="979.10" stroke="#000" stroke-width="1.9"/>
<line x1="1823.15" y1="979.10" x2="1834.15" y2="979.10" stroke="#000" stroke-width="1.9"/>
<line x1="1850.25" y1="989.10" x2="1850.25" y2="980.90" stroke="#000" stroke-width="1.9"/>
<line x1="1844.75" y1="980.90" x2="1855.75" y2="980.90" stroke="#000" stroke-width="1.9"/>
<rect x="1883.18" y="968.80" width="21.60" height="168.10" fill="#000"/>
<rect x="1904.78" y="973.10" width="21.60" height="163.80" fill="#a0a0a0"/>
<line x1="1893.98" y1="968.80" x2="1893.98" y2="964.20" stroke="#000" stroke-width="1.9"/>
<line x1="1888.48" y1="964.20" x2="1899.48" y2="964.20" stroke="#000" stroke-width="1.9"/>
<line x1="1915.58" y1="973.10" x2="1915.58" y2="968.40" stroke="#000" stroke-width="1.9"/>
<line x1="1910.08" y1="968.40" x2="1921.08" y2="968.40" stroke="#000" stroke-width="1.9"/>
<rect x="1948.51" y="942.10" width="21.60" height="194.80" fill="#000"/>
<rect x="1970.11" y="950.60" width="21.60" height="186.30" fill="#a0a0a0"/>
<line x1="1959.31" y1="942.10" x2="1959.31" y2="936.40" stroke="#000" stroke-width="1.9"/>
<line x1="1953.81" y1="936.40" x2="1964.81" y2="936.40" stroke="#000" stroke-width="1.9"/>
<line x1="1980.91" y1="950.60" x2="1980.91" y2="945.30" stroke="#000" stroke-width="1.9"/>
<line x1="1975.41" y1="945.30" x2="1986.41" y2="945.30" stroke="#000" stroke-width="1.9"/>
<rect x="1479.15" y="792.05" width="3.50" height="346.35" fill="#000"/>
<rect x="1465.90" y="1136.90" width="15.00" height="3.00" fill="#000"/>
<rect x="1465.90" y="1021.95" width="15.00" height="3.00" fill="#000"/>
<rect x="1465.90" y="907.00" width="15.00" height="3.00" fill="#000"/>
<rect x="1465.90" y="792.05" width="15.00" height="3.00" fill="#000"/>
<rect x="1465.90" y="1136.85" width="538.10" height="3.10" fill="#000"/>
<rect x="1511.10" y="1138.40" width="3.40" height="14.20" fill="#000"/>
<rect x="1576.43" y="1138.40" width="3.40" height="14.20" fill="#000"/>
<rect x="1641.76" y="1138.40" width="3.40" height="14.20" fill="#000"/>
<rect x="1707.09" y="1138.40" width="3.40" height="14.20" fill="#000"/>
<rect x="1772.42" y="1138.40" width="3.40" height="14.20" fill="#000"/>
<rect x="1837.75" y="1138.40" width="3.40" height="14.20" fill="#000"/>
<rect x="1903.08" y="1138.40" width="3.40" height="14.20" fill="#000"/>
<rect x="1968.41" y="1138.40" width="3.40" height="14.20" fill="#000"/>
<text x="1425.07" y="1147.49" font-size="27.00" font-family='"Liberation Sans", Arial, sans-serif' font-weight="bold" textLength="37.53" lengthAdjust="spacingAndGlyphs">0.0</text>
<text x="1424.72" y="1032.54" font-size="27.00" font-family='"Liberation Sans", Arial, sans-serif' font-weight="bold" textLength="37.53" lengthAdjust="spacingAndGlyphs">0.5</text>
<text x="1425.07" y="917.59" font-size="27.00" font-family='"Liberation Sans", Arial, sans-serif' font-weight="bold" textLength="37.53" lengthAdjust="spacingAndGlyphs">1.0</text>
<text x="1424.72" y="802.64" font-size="27.00" font-family='"Liberation Sans", Arial, sans-serif' font-weight="bold" textLength="37.53" lengthAdjust="spacingAndGlyphs">1.5</text>
<rect x="1814.00" y="786.80" width="37.40" height="17.90" fill="#000"/>
<rect x="1814.00" y="833.10" width="37.40" height="17.80" fill="#a0a0a0"/>
<text x="1870.21" y="804.70" font-size="27.50" font-family='"Liberation Sans", Arial, sans-serif' textLength="85.21" lengthAdjust="spacingAndGlyphs">(ZO)-1</text>
<text x="1870.57" y="851.00" font-size="27.50" font-family='"Liberation Sans", Arial, sans-serif' textLength="117.39" lengthAdjust="spacingAndGlyphs">Occludin</text>
<text transform="translate(1407.60,1161.89) rotate(-90)" x="0" y="0" font-size="28.80" font-family='"Liberation Sans", Arial, sans-serif' font-weight="bold" textLength="393.93" lengthAdjust="spacingAndGlyphs" stroke="#000" stroke-width="0.8" stroke-linejoin="round">Relative expression of mRNA</text>
<text x="1403.54" y="1194.70" font-size="20.60" font-family='"Liberation Sans", Arial, sans-serif' font-weight="bold" textLength="42.41" lengthAdjust="spacingAndGlyphs">LPS</text>
<text x="1317.94" y="1227.40" font-size="19.80" font-family='"Liberation Sans", Arial, sans-serif' font-weight="bold" textLength="161.77" lengthAdjust="spacingAndGlyphs">betaine(3.4mM)</text>
<text x="1318.93" y="1267.20" font-size="19.80" font-family='"Liberation Sans", Arial, sans-serif' font-weight="bold" textLength="161.87" lengthAdjust="spacingAndGlyphs">betaine(5.1mM)</text>
<text x="1318.93" y="1308.50" font-size="19.80" font-family='"Liberation Sans", Arial, sans-serif' font-weight="bold" textLength="161.87" lengthAdjust="spacingAndGlyphs">betaine(6.8mM)</text>
<text transform="translate(1507.07,1196.70) scale(1.166,1)" font-size="35.00" font-family='"Liberation Sans", Arial, sans-serif' font-weight="bold">-</text>
<text transform="translate(1575.77,1195.30) scale(1.166,1)" font-size="35.00" font-family='"Liberation Sans", Arial, sans-serif' font-weight="bold">-</text>
<text transform="translate(1640.27,1195.30) scale(1.166,1)" font-size="35.00" font-family='"Liberation Sans", Arial, sans-serif' font-weight="bold">-</text>
<text transform="translate(1704.67,1195.30) scale(1.166,1)" font-size="35.00" font-family='"Liberation Sans", Arial, sans-serif' font-weight="bold">-</text>
<text transform="translate(1768.17,1195.99) scale(1.066,1)" font-size="21.76" font-family='"Liberation Sans", Arial, sans-serif' font-weight="bold" stroke="#000" stroke-width="0.3" stroke-linejoin="round">+</text>
<text transform="translate(1833.97,1195.99) scale(1.066,1)" font-size="21.76" font-family='"Liberation Sans", Arial, sans-serif' font-weight="bold" stroke="#000" stroke-width="0.3" stroke-linejoin="round">+</text>
<text transform="translate(1902.67,1196.69) scale(1.066,1)" font-size="21.76" font-family='"Liberation Sans", Arial, sans-serif' font-weight="bold" stroke="#000" stroke-width="0.3" stroke-linejoin="round">+</text>
<text transform="translate(1965.37,1196.69) scale(1.066,1)" font-size="21.76" font-family='"Liberation Sans", Arial, sans-serif' font-weight="bold" stroke="#000" stroke-width="0.3" stroke-linejoin="round">+</text>
<text transform="translate(1508.17,1233.00) scale(1.166,1)" font-size="35.00" font-family='"Liberation Sans", Arial, sans-serif' font-weight="bold">-</text>
<text transform="translate(1575.77,1231.19) scale(1.066,1)" font-size="21.76" font-family='"Liberation Sans", Arial, sans-serif' font-weight="bold" stroke="#000" stroke-width="0.3" stroke-linejoin="round">+</text>
<text transform="translate(1640.27,1233.70) scale(1.166,1)" font-size="35.00" font-family='"Liberation Sans", Arial, sans-serif' font-weight="bold">-</text>
<text transform="translate(1707.17,1233.70) scale(1.166,1)" font-size="35.00" font-family='"Liberation Sans", Arial, sans-serif' font-weight="bold">-</text>
<text transform="translate(1768.17,1234.80) scale(1.166,1)" font-size="35.00" font-family='"Liberation Sans", Arial, sans-serif' font-weight="bold">-</text>
<text transform="translate(1835.07,1233.99) scale(1.066,1)" font-size="21.76" font-family='"Liberation Sans", Arial, sans-serif' font-weight="bold" stroke="#000" stroke-width="0.3" stroke-linejoin="round">+</text>
<text transform="translate(1902.67,1234.80) scale(1.166,1)" font-size="35.00" font-family='"Liberation Sans", Arial, sans-serif' font-weight="bold">-</text>
<text transform="translate(1967.17,1236.50) scale(1.166,1)" font-size="35.00" font-family='"Liberation Sans", Arial, sans-serif' font-weight="bold">-</text>
<text transform="translate(1508.17,1270.00) scale(1.166,1)" font-size="35.00" font-family='"Liberation Sans", Arial, sans-serif' font-weight="bold">-</text>
<text transform="translate(1575.77,1270.00) scale(1.166,1)" font-size="35.00" font-family='"Liberation Sans", Arial, sans-serif' font-weight="bold">-</text>
<text transform="translate(1642.67,1269.29) scale(1.066,1)" font-size="21.76" font-family='"Liberation Sans", Arial, sans-serif' font-weight="bold" stroke="#000" stroke-width="0.3" stroke-linejoin="round">+</text>
<text transform="translate(1706.47,1271.80) scale(1.166,1)" font-size="35.00" font-family='"Liberation Sans", Arial, sans-serif' font-weight="bold">-</text>
<text transform="translate(1769.57,1273.50) scale(1.166,1)" font-size="35.00" font-family='"Liberation Sans", Arial, sans-serif' font-weight="bold">-</text>
<text transform="translate(1836.47,1273.50) scale(1.166,1)" font-size="35.00" font-family='"Liberation Sans", Arial, sans-serif' font-weight="bold">-</text>
<text transform="translate(1904.47,1268.89) scale(1.066,1)" font-size="21.76" font-family='"Liberation Sans", Arial, sans-serif' font-weight="bold" stroke="#000" stroke-width="0.3" stroke-linejoin="round">+</text>
<text transform="translate(1968.87,1274.20) scale(1.166,1)" font-size="35.00" font-family='"Liberation Sans", Arial, sans-serif' font-weight="bold">-</text>
<text transform="translate(1509.87,1314.00) scale(1.166,1)" font-size="35.00" font-family='"Liberation Sans", Arial, sans-serif' font-weight="bold">-</text>
<text transform="translate(1575.77,1314.00) scale(1.166,1)" font-size="35.00" font-family='"Liberation Sans", Arial, sans-serif' font-weight="bold">-</text>
<text transform="translate(1643.77,1314.00) scale(1.166,1)" font-size="35.00" font-family='"Liberation Sans", Arial, sans-serif' font-weight="bold">-</text>
<text transform="translate(1707.17,1312.19) scale(1.066,1)" font-size="21.76" font-family='"Liberation Sans", Arial, sans-serif' font-weight="bold" stroke="#000" stroke-width="0.3" stroke-linejoin="round">+</text>
<text transform="translate(1769.57,1315.80) scale(1.166,1)" font-size="35.00" font-family='"Liberation Sans", Arial, sans-serif' font-weight="bold">-</text>
<text transform="translate(1837.47,1317.60) scale(1.166,1)" font-size="35.00" font-family='"Liberation Sans", Arial, sans-serif' font-weight="bold">-</text>
<text transform="translate(1904.47,1318.30) scale(1.166,1)" font-size="35.00" font-family='"Liberation Sans", Arial, sans-serif' font-weight="bold">-</text>
<text transform="translate(1968.87,1317.49) scale(1.066,1)" font-size="21.76" font-family='"Liberation Sans", Arial, sans-serif' font-weight="bold" stroke="#000" stroke-width="0.3" stroke-linejoin="round">+</text>
<text transform="translate(306.39,128.82) scale(0.942,1)" font-size="21.64" font-family='"Liberation Sans", Arial, sans-serif' font-weight="bold" stroke="#000" stroke-width="0.5" stroke-linejoin="round">#</text>
<text transform="translate(388.35,298.28) scale(0.977,1)" font-size="36.49" font-family='"Liberation Sans", Arial, sans-serif' font-weight="bold">*</text>
<text transform="translate(980.76,326.04) scale(1.025,1)" font-size="18.96" font-family='"Liberation Sans", Arial, sans-serif' font-weight="bold" stroke="#000" stroke-width="0.5" stroke-linejoin="round">#</text>
<text transform="translate(1041.50,266.26) scale(1.032,1)" font-size="27.84" font-family='"Liberation Sans", Arial, sans-serif' font-weight="bold">*</text>
<text transform="translate(1100.67,225.51) scale(0.934,1)" font-size="19.43" font-family='"Liberation Sans", Arial, sans-serif' font-weight="bold" stroke="#000" stroke-width="0.3" stroke-linejoin="round">&amp;</text>
<text transform="translate(1156.18,201.35) scale(1.049,1)" font-size="19.86" font-family='"Noto Sans CJK SC", "Noto Sans CJK JP", sans-serif'>※</text>
<text x="1562.12" y="187.64" font-size="19.25" font-family='"Liberation Sans", Arial, sans-serif' font-weight="bold" stroke="#000" stroke-width="0.5" stroke-linejoin="round">#</text>
<text transform="translate(1596.33,102.64) scale(0.959,1)" font-size="19.25" font-family='"Liberation Sans", Arial, sans-serif' font-weight="bold" stroke="#000" stroke-width="0.5" stroke-linejoin="round">#</text>
<text transform="translate(1666.30,279.26) scale(1.072,1)" font-size="24.86" font-family='"Liberation Sans", Arial, sans-serif' font-weight="bold">*</text>
<text transform="translate(1702.50,208.30) scale(1.028,1)" font-size="25.95" font-family='"Liberation Sans", Arial, sans-serif' font-weight="bold">*</text>
<text transform="translate(286.42,1003.84) scale(1.031,1)" font-size="18.66" font-family='"Liberation Sans", Arial, sans-serif' font-weight="bold" stroke="#000" stroke-width="0.5" stroke-linejoin="round">#</text>
<text transform="translate(322.35,983.64) scale(1.062,1)" font-size="18.66" font-family='"Liberation Sans", Arial, sans-serif' font-weight="bold" stroke="#000" stroke-width="0.5" stroke-linejoin="round">#</text>
<text transform="translate(392.70,922.39) scale(1.071,1)" font-size="25.14" font-family='"Liberation Sans", Arial, sans-serif' font-weight="bold">*</text>
<text transform="translate(429.10,900.49) scale(1.061,1)" font-size="25.14" font-family='"Liberation Sans", Arial, sans-serif' font-weight="bold">*</text>
<text transform="translate(1005.18,921.90) scale(1.042,1)" font-size="20.30" font-family='"Liberation Sans", Arial, sans-serif' font-weight="bold" stroke="#000" stroke-width="0.5" stroke-linejoin="round">#</text>
<text transform="translate(1029.38,854.10) scale(1.042,1)" font-size="20.30" font-family='"Liberation Sans", Arial, sans-serif' font-weight="bold" stroke="#000" stroke-width="0.5" stroke-linejoin="round">#</text>
<text transform="translate(1072.30,1001.62) scale(1.042,1)" font-size="27.57" font-family='"Liberation Sans", Arial, sans-serif' font-weight="bold">*</text>
<text transform="translate(1095.00,931.98) scale(1.065,1)" font-size="26.49" font-family='"Liberation Sans", Arial, sans-serif' font-weight="bold">*</text>
<text x="1135.89" y="1006.96" font-size="19.00" font-family='"Liberation Sans", Arial, sans-serif' font-weight="bold" stroke="#000" stroke-width="0.3" stroke-linejoin="round">&amp;</text>
<text transform="translate(1157.79,958.51) scale(0.974,1)" font-size="19.43" font-family='"Liberation Sans", Arial, sans-serif' font-weight="bold" stroke="#000" stroke-width="0.3" stroke-linejoin="round">&amp;</text>
<text transform="translate(1197.90,1016.52) scale(1.033,1)" font-size="21.11" font-family='"Noto Sans CJK SC", "Noto Sans CJK JP", sans-serif'>※</text>
<text transform="translate(1218.80,1002.68) scale(1.026,1)" font-size="21.25" font-family='"Noto Sans CJK SC", "Noto Sans CJK JP", sans-serif'>※</text>
<text transform="translate(1757.75,1027.61) scale(0.955,1)" font-size="20.75" font-family='"Liberation Sans", Arial, sans-serif' font-weight="bold" stroke="#000" stroke-width="0.5" stroke-linejoin="round">#</text>
<text x="1780.79" y="1010.70" font-size="20.45" font-family='"Liberation Sans", Arial, sans-serif' font-weight="bold" stroke="#000" stroke-width="0.5" stroke-linejoin="round">#</text>
<text transform="translate(1823.05,984.37) scale(1.029,1)" font-size="28.65" font-family='"Liberation Sans", Arial, sans-serif' font-weight="bold">*</text>
<text transform="translate(1845.95,984.77) scale(1.029,1)" font-size="28.65" font-family='"Liberation Sans", Arial, sans-serif' font-weight="bold">*</text>
<text transform="translate(1888.52,961.21) scale(1.013,1)" font-size="19.14" font-family='"Liberation Sans", Arial, sans-serif' font-weight="bold" stroke="#000" stroke-width="0.3" stroke-linejoin="round">&amp;</text>
<text transform="translate(1910.02,965.11) scale(1.013,1)" font-size="19.14" font-family='"Liberation Sans", Arial, sans-serif' font-weight="bold" stroke="#000" stroke-width="0.3" stroke-linejoin="round">&amp;</text>
<text transform="translate(1950.56,932.82) scale(1.046,1)" font-size="21.11" font-family='"Noto Sans CJK SC", "Noto Sans CJK JP", sans-serif'>※</text>
<text transform="translate(1969.97,941.58) scale(1.020,1)" font-size="21.25" font-family='"Noto Sans CJK SC", "Noto Sans CJK JP", sans-serif'>※</text>
</svg></body></html>
